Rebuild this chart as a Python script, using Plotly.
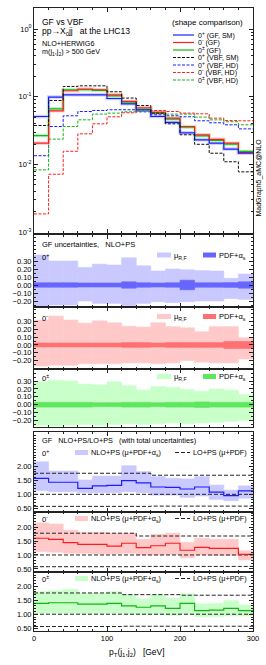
import plotly.graph_objects as go

# ---------------- data ----------------
edges = list(range(0, 301, 20))
centers = [e + 10 for e in edges[:-1]]

# main panel: normalised distributions (shape comparison)
gf_sm_0p = [0.0512, 0.099, 0.107, 0.107, 0.107, 0.0944, 0.0788, 0.0643, 0.0512, 0.042, 0.0294, 0.0232, 0.0207, 0.0169, 0.0147]
gf_0m = [0.0207, 0.0621, 0.1227, 0.130, 0.127, 0.107, 0.0853, 0.0689, 0.0594, 0.0484, 0.0364, 0.0275, 0.0236, 0.0207, 0.0150]
gf_0pm = [0.0268, 0.0665, 0.127, 0.127, 0.124, 0.1034, 0.0815, 0.0658, 0.0574, 0.0469, 0.0356, 0.0265, 0.0228, 0.0200, 0.0156]
vbf_sm_0p = [0.0377, 0.0882, 0.142, 0.145, 0.145, 0.1186, 0.0957, 0.0744, 0.0574, 0.0399, 0.0275, 0.0199, 0.0147, 0.0110, 0.0078]
vbf_hd_0p = [0.0135, 0.0364, 0.0524, 0.0606, 0.0628, 0.0643, 0.0643, 0.060, 0.0542, 0.0524, 0.0507, 0.0442, 0.0413, 0.0386, 0.0336]
vbf_hd_0m = [0.00187, 0.0072, 0.0157, 0.0284, 0.0399, 0.0507, 0.058, 0.0643, 0.0628, 0.0606, 0.0574, 0.0561, 0.0484, 0.0446, 0.0442]
vbf_hd_0pm = [0.00835, 0.0237, 0.0364, 0.0457, 0.0555, 0.0574, 0.060, 0.0611, 0.0574, 0.0555, 0.0555, 0.0501, 0.0457, 0.0428, 0.0386]

# GF uncertainties (relative), NLO+PS
unc_0p_mu_up = [0.375, 0.30, 0.30, 0.22, 0.26, 0.25, 0.34, 0.24, 0.175, 0.20, 0.19, 0.18, 0.175, 0.083, 0.137]
unc_0p_mu_dn = [-0.27, -0.25, -0.25, -0.20, -0.23, -0.23, -0.26, -0.23, -0.21, -0.22, -0.21, -0.20, -0.20, -0.17, -0.18]
unc_0p_pdf = [0.028, 0.028, 0.028, 0.025, 0.025, 0.025, 0.04, 0.028, 0.025, 0.028, 0.06, 0.028, 0.028, 0.03, 0.04]
unc_0m_mu_up = [0.32, 0.37, 0.32, 0.28, 0.31, 0.285, 0.24, 0.23, 0.285, 0.235, 0.22, 0.17, 0.235, 0.235, 0.094]
unc_0m_mu_dn = [-0.27, -0.26, -0.26, -0.24, -0.24, -0.24, -0.23, -0.23, -0.24, -0.23, -0.20, -0.22, -0.23, -0.23, -0.18]
unc_0m_pdf = [0.025, 0.025, 0.025, 0.025, 0.025, 0.025, 0.03, 0.03, 0.025, 0.03, 0.03, 0.03, 0.03, 0.045, 0.045]
unc_0pm_mu_up = [0.29, 0.31, 0.30, 0.26, 0.25, 0.29, 0.24, 0.185, 0.23, 0.22, 0.195, 0.17, 0.20, 0.185, 0.13]
unc_0pm_mu_dn = [-0.26, -0.27, -0.26, -0.25, -0.26, -0.25, -0.24, -0.25, -0.24, -0.23, -0.24, -0.23, -0.22, -0.21, -0.20]
unc_0pm_pdf = [0.03, 0.03, 0.03, 0.03, 0.025, 0.025, 0.03, 0.03, 0.025, 0.03, 0.03, 0.035, 0.03, 0.03, 0.03]

# NLO+PS / LO+PS ratios with total uncertainties
r_0p = [1.57, 1.43, 1.43, 1.21, 1.30, 1.32, 1.49, 1.41, 1.26, 1.25, 1.19, 1.26, 1.08, 0.95, 1.12]
r_0p_up = [2.16, 1.83, 1.83, 1.51, 1.65, 1.65, 2.02, 1.81, 1.63, 1.57, 1.55, 1.63, 1.33, 1.15, 1.30]
r_0p_dn = [1.13, 1.09, 1.09, 1.06, 1.06, 1.06, 1.09, 1.06, 0.97, 0.97, 0.89, 0.94, 0.82, 0.77, 0.86]
r_0m = [1.60, 1.56, 1.44, 1.38, 1.38, 1.32, 1.42, 1.26, 1.33, 1.42, 1.17, 1.27, 1.24, 1.24, 1.02]
r_0m_up = [2.15, 2.11, 1.89, 1.81, 1.81, 1.78, 1.78, 1.56, 1.74, 1.78, 1.45, 1.60, 1.56, 1.56, 1.15]
r_0m_dn = [1.12, 1.10, 1.06, 1.06, 1.04, 1.04, 1.06, 1.00, 1.00, 1.02, 0.90, 1.00, 0.98, 0.98, 0.82]
r_0pm = [1.39, 1.41, 1.41, 1.36, 1.36, 1.39, 1.30, 1.25, 1.30, 1.21, 1.39, 1.13, 1.15, 1.21, 1.13]
r_0pm_up = [1.81, 1.84, 1.89, 1.75, 1.75, 1.81, 1.69, 1.54, 1.69, 1.57, 1.73, 1.37, 1.39, 1.49, 1.33]
r_0pm_dn = [1.04, 1.04, 1.04, 1.02, 1.02, 1.04, 1.00, 1.00, 1.00, 0.96, 1.00, 0.92, 0.92, 0.94, 0.94]

# LO+PS (mu+PDF) band, relative to LO central
lo_c = [1.0] * 15
lo_0p_up = [1.75, 1.75, 1.75, 1.75, 1.75, 1.75, 1.75, 1.75, 1.68, 1.68, 1.68, 1.68, 1.68, 1.68, 1.68]
lo_0p_dn = [0.57, 0.57, 0.57, 0.57, 0.57, 0.57, 0.57, 0.57, 0.58, 0.58, 0.58, 0.58, 0.58, 0.58, 0.58]
lo_0m_up = [1.78, 1.78, 1.78, 1.78, 1.78, 1.78, 1.78, 1.68, 1.68, 1.68, 1.68, 1.68, 1.68, 1.68, 1.68]
lo_0m_dn = [0.58, 0.58, 0.58, 0.58, 0.58, 0.58, 0.58, 0.59, 0.59, 0.59, 0.59, 0.59, 0.59, 0.59, 0.59]
lo_0pm_up = [1.76, 1.76, 1.76, 1.76, 1.76, 1.76, 1.70, 1.70, 1.70, 1.70, 1.68, 1.68, 1.68, 1.68, 1.68]
lo_0pm_dn = [0.56, 0.56, 0.56, 0.56, 0.56, 0.56, 0.57, 0.57, 0.57, 0.57, 0.57, 0.57, 0.57, 0.57, 0.57]

legend_main = ["0<sup>+</sup> (GF, SM)", "0<sup>-</sup> (GF)", "0<sup>±</sup> (GF)",
               "0<sup>+</sup> (VBF, SM)", "0<sup>+</sup> (VBF, HD)", "0<sup>-</sup> (VBF, HD)",
               "0<sup>±</sup> (VBF, HD)"]
state_labels = ["0<sup>+</sup>", "0<sup>-</sup>", "0<sup>±</sup>"]

# ---------------- styling ----------------
BLUE, RED, GREEN = "#1c1cff", "#ff1c1c", "#14b414"
BLUE_L, RED_L, GREEN_L = "#c9c9ff", "#ffc9c9", "#c9ffc9"
BLUE_D, RED_D, GREEN_D = "#6666ff", "#ff7070", "#5ee65e"
BLUE_H, RED_H, GREEN_H = "#d0d0ff", "#ffcece", "#c4efc4"
FONT = "Liberation Sans, Arial, sans-serif"

W, H = 266, 665
ML, MR, MT, MB = 34, 13, 8, 34
PW, PH = W - ML - MR, H - MT - MB


def pxx(x):
    return (x - ML) / PW


def pyy(y):
    return (H - MB - y) / PH


fig = go.Figure()


def step(vals):
    return edges, list(vals) + [vals[-1]]


def add_line(vals, ax, color, width=1.2, dash="solid"):
    xs, ys = step(vals)
    fig.add_trace(go.Scatter(x=xs, y=ys, mode="lines", line=dict(color=color, width=width, dash=dash, shape="hv"),
                             xaxis="x" + ax, yaxis="y" + ax, hoverinfo="skip"))


def add_band(lo, hi, ax, color):
    fig.add_trace(go.Bar(x=centers, y=[h - l for h, l in zip(hi, lo)], base=lo, width=20,
                         marker=dict(color=color, line=dict(width=0.6, color=color)),
                         xaxis="x" + ax, yaxis="y" + ax, hoverinfo="skip"))


# main panel
for vals, halo in [(gf_sm_0p, BLUE_H), (gf_0m, RED_H), (gf_0pm, GREEN_H)]:
    add_line(vals, "", halo, width=3.5)
DASH = "3px,1.5px"
add_line(vbf_hd_0p, "", BLUE, 1.0, DASH)
add_line(vbf_hd_0pm, "", GREEN, 1.0, DASH)
add_line(vbf_hd_0m, "", RED, 1.0, DASH)
add_line(gf_0pm, "", GREEN, 1.2)
add_line(gf_0m, "", RED, 1.2)
add_line(gf_sm_0p, "", BLUE, 1.2)
add_line(vbf_sm_0p, "", "#111111", 1.0, DASH)

# uncertainty panels
for ax, up, dn, pdf, cl, cd in [("2", unc_0p_mu_up, unc_0p_mu_dn, unc_0p_pdf, BLUE_L, BLUE_D),
                                ("3", unc_0m_mu_up, unc_0m_mu_dn, unc_0m_pdf, RED_L, RED_D),
                                ("4", unc_0pm_mu_up, unc_0pm_mu_dn, unc_0pm_pdf, GREEN_L, GREEN_D)]:
    add_band(dn, up, ax, cl)
    add_band([-p for p in pdf], pdf, ax, cd)

# ratio panels
for ax, c, up, dn, lup, ldn, cl, col in [("5", r_0p, r_0p_up, r_0p_dn, lo_0p_up, lo_0p_dn, BLUE_L, BLUE),
                                         ("6", r_0m, r_0m_up, r_0m_dn, lo_0m_up, lo_0m_dn, RED_L, RED),
                                         ("7", r_0pm, r_0pm_up, r_0pm_dn, lo_0pm_up, lo_0pm_dn, GREEN_L, GREEN)]:
    add_band(dn, up, ax, cl)
    for l in (lo_c, lup, ldn):
        add_line(l, ax, "#222222", 1.0, "4px,2px")
    add_line(c, ax, col, 1.2)

# ---------------- axes ----------------
domains = [[pyy(233), 1.0], [pyy(307), pyy(235)], [pyy(369), pyy(307)], [pyy(427), pyy(369)],
           [pyy(512), pyy(432)], [pyy(572), pyy(512)], [0.0, pyy(572)]]
LC = "#222222"
layout = {}
for i in range(7):
    n = "" if i == 0 else str(i + 1)
    layout["xaxis" + n] = dict(range=[0, 300], domain=[0, 1], anchor="y" + n, showline=True, linecolor=LC, linewidth=1,
                               mirror="allticks", ticks="inside", ticklen=4, tickcolor=LC, tick0=0, dtick=100,
                               showgrid=False, zeroline=False, showticklabels=(i == 6),
                               tickfont=dict(size=7.5, family=FONT),
                               minor=dict(ticks="inside", ticklen=2, dtick=20, tickcolor=LC, showgrid=False))

layout["yaxis"] = dict(type="log", range=[-3.01, 0.31], domain=domains[0], anchor="x", showline=True, linecolor=LC,
                       linewidth=1, mirror="allticks", ticks="inside", ticklen=4, tickcolor=LC,
                       tickvals=[0.001, 0.01, 0.1, 1], ticktext=["10<sup>-3</sup>", "10<sup>-2</sup>", "10<sup>-1</sup>", "10<sup>0</sup>"],
                       showgrid=False, zeroline=False, tickfont=dict(size=7.5, family=FONT),
                       minor=dict(ticks="inside", ticklen=2, dtick="D1", tickcolor=LC, showgrid=False))
unc_ranges = [[-0.275, 0.625], [-0.308, 0.487], [-0.282, 0.452]]
rat_ranges = [[0.37, 3.22], [0.39, 2.54], [0.40, 2.51]]
for k in range(3):
    n = str(k + 2)
    layout["yaxis" + n] = dict(range=unc_ranges[k], domain=domains[k + 1], anchor="x" + n, showline=True,
                               linecolor=LC, linewidth=1, mirror="allticks", ticks="inside", ticklen=4,
                               tickcolor=LC, tickvals=[-0.2, -0.1, 0, 0.1, 0.2, 0.3], tickformat=".2f",
                               showgrid=False, zeroline=False, tickfont=dict(size=7.5, family=FONT),
                               minor=dict(ticks="inside", ticklen=2, dtick=0.05, tickcolor=LC, showgrid=False))
for k in range(3):
    n = str(k + 5)
    layout["yaxis" + n] = dict(range=rat_ranges[k], domain=domains[k + 4], anchor="x" + n, showline=True,
                               linecolor=LC, linewidth=1, mirror="allticks", ticks="inside", ticklen=4,
                               tickcolor=LC, tickvals=[0.5, 1.0, 1.5, 2.0], tickformat=".2f",
                               showgrid=False, zeroline=False, tickfont=dict(size=7.5, family=FONT),
                               minor=dict(ticks="inside", ticklen=2, dtick=0.1, tickcolor=LC, showgrid=False))

fig.update_layout(width=W, height=H, margin=dict(l=ML, r=MR, t=MT, b=MB, pad=0), paper_bgcolor="white",
                  plot_bgcolor="white", showlegend=False, barmode="overlay",
                  font=dict(family=FONT, size=7.5, color="black"), **layout)

# ---------------- texts / legends ----------------
ann = []
shapes = []


def text(x, y, s, size=7.5, anchor="left", angle=0):
    ann.append(dict(x=pxx(x), y=pyy(y), xref="paper", yref="paper", text=s, showarrow=False, xanchor=anchor,
                    yanchor="middle", textangle=angle, font=dict(size=size, family=FONT, color="black"),
                    borderpad=0))


def hline(x0, x1, y, color, dash="solid", width=1.2):
    shapes.append(dict(type="line", xref="paper", yref="paper", x0=pxx(x0), x1=pxx(x1), y0=pyy(y), y1=pyy(y),
                       line=dict(color=color, width=width, dash=dash)))


def box(x0, x1, y0, y1, color):
    shapes.append(dict(type="rect", xref="paper", yref="paper", x0=pxx(x0), x1=pxx(x1), y0=pyy(y1), y1=pyy(y0),
                       fillcolor=color, line=dict(width=0)))


text(41, 22, "GF vs VBF", 8.5)
text(41, 31.5, "pp→X<sub>0</sub>jj   at the LHC13", 8.5)
text(41, 43.5, "NLO+HERWIG6", 7.2)
text(41, 52.5, "m(j<sub>1</sub>,j<sub>2</sub>) > 500 GeV", 7.2)
text(244, 22.5, "(shape comparison)", 8, anchor="right")
styles = [(BLUE, "solid"), (RED, "solid"), (GREEN, "solid"), ("#111111", DASH), (BLUE, DASH), (RED, DASH), (GREEN, DASH)]
for i, (lab, (col, d)) in enumerate(zip(legend_main, styles)):
    y = 35 + 7.5 * i
    hline(173, 194, y, col, d, 1.2)
    text(196.5, y, lab, 7.0)
text(258.5, 178, "MadGraph5_aMC@NLO", 7, anchor="center", angle=-90)

text(41, 244.5, "GF uncertainties,   NLO+PS", 7.5)
unc_rows = [255, 316.5, 376.5]
for k, (cl, cd) in enumerate([(BLUE_L, BLUE_D), (RED_L, RED_D), (GREEN_L, GREEN_D)]):
    y = unc_rows[k]
    text(41, y + 1.5, state_labels[k], 7.5)
    box(157, 171, y - 2.5, y + 2.5, cl)
    text(172.5, y + 0.5, "μ<sub>R,F</sub>", 7.5)
    box(203, 216, y - 2.5, y + 2.5, cd)
    text(217.5, y + 0.5, "PDF+α<sub>s</sub>", 7.5)

text(41, 440.5, "GF   NLO+PS/LO+PS   (with total uncertainties)", 7.3)
rat_rows = [452.5, 518.5, 578.5]
for k, cl in enumerate([BLUE_L, RED_L, GREEN_L]):
    y = rat_rows[k]
    text(41, y + 0.5, state_labels[k], 7.5)
    box(75, 88, y - 2.5, y + 2.5, cl)
    text(89.5, y, "NLO+PS (μ+PDF+α<sub>s</sub>)", 7.3)
    hline(175, 190, y, "#222222", "4px,2px", 1.0)
    text(192, y, "LO+PS (μ+PDF)", 7.3)

text(137, 652, "p<sub>T</sub>(j<sub>1</sub>,j<sub>2</sub>)   [GeV]", 8.5, anchor="center")

fig.update_layout(annotations=ann, shapes=shapes)
fig.write_html("out.html", config={"displayModeBar": False},
               post_script="document.body.style.margin='0px';document.body.style.overflow='hidden';")
